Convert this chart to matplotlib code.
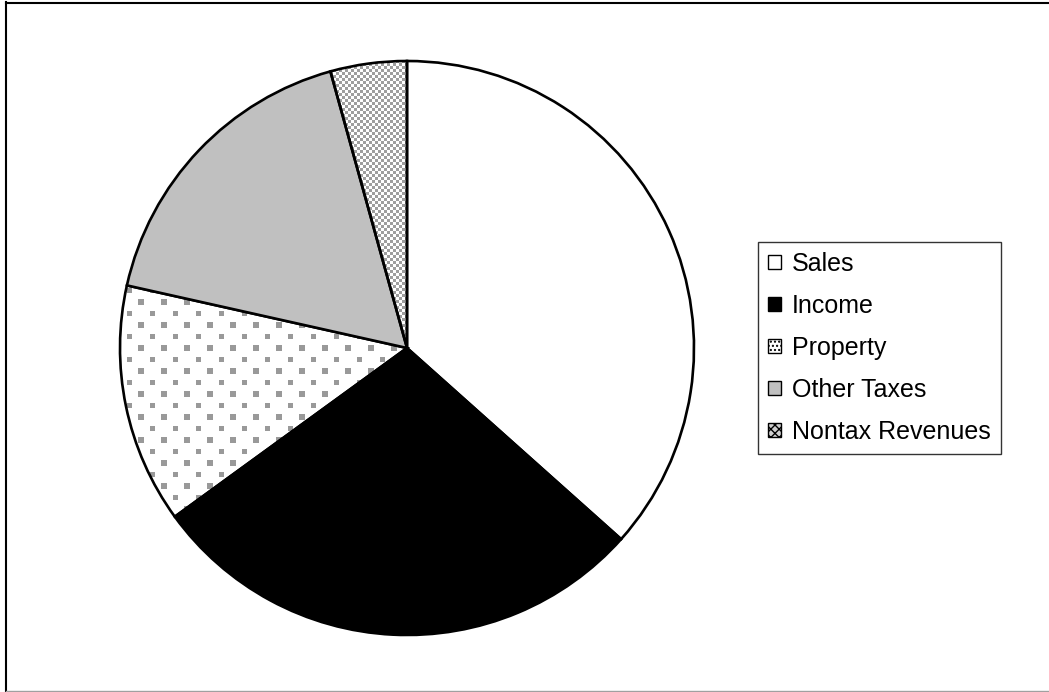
import numpy as np
import matplotlib
matplotlib.use("Agg")
import matplotlib.pyplot as plt
from matplotlib.patches import Patch
from matplotlib.lines import Line2D

plt.rcParams['font.family'] = ['Liberation Sans', 'DejaVu Sans']

# revenue shares (percent)
labels = ["Sales", "Income", "Property", "Other Taxes", "Nontax Revenues"]
shares = [36.6, 28.4, 13.5, 17.2, 4.3]
fills = ["white", "black", "none", "#c0c0c0", "none"]

W, H = 1049, 692
fig = plt.figure(figsize=(W / 100, H / 100), dpi=100)
ax = fig.add_axes([0, 0, 1, 1])

wedges, _ = ax.pie(shares, colors=fills, startangle=90, counterclock=False,
                   center=(407, 344), radius=287, frame=True,
                   wedgeprops=dict(edgecolor="black", linewidth=1.9))
ax.set_xlim(0, W)
ax.set_ylim(0, H)
ax.set_aspect("equal")
ax.axis("off")

# pixel textures for the patterned slices
yy, xx = np.mgrid[0:H, 0:W]
dots = np.ones((H, W, 3))
row = yy // 11.5
on = ((yy % 11.5) < 5.5) & (((xx + (row % 2) * 11.5) % 23) < 5.5)
dots[on] = 0.6
checks = np.ones((H, W, 3))
checks[((xx // 3) + (yy // 3)) % 2 == 0] = 0.62

for tex, w in [(dots, wedges[2]), (checks, wedges[4])]:
    im = ax.imshow(tex, extent=(0, W, 0, H), origin="upper",
                   interpolation="nearest", zorder=0.5)
    im.set_clip_path(w)

handles = [
    Patch(facecolor="white", edgecolor="black", linewidth=1),
    Patch(facecolor="black", edgecolor="black", linewidth=1),
    Patch(facecolor="white", edgecolor="black", linewidth=1, hatch="...."),
    Patch(facecolor="#c0c0c0", edgecolor="black", linewidth=1),
    Patch(facecolor="#d0d0d0", edgecolor="black", linewidth=1, hatch="xxxx"),
]
leg = ax.legend(handles, labels, loc="upper left",
                bbox_to_anchor=(758 / W, 1 - 242 / H),
                bbox_transform=fig.transFigure, fontsize=18,
                frameon=True, fancybox=False, borderpad=0.4,
                handlelength=0.5, handleheight=0.5, handletextpad=0.45,
                labelspacing=0.72, borderaxespad=0)
leg.get_frame().set_edgecolor("black")
leg.get_frame().set_linewidth(1)

# outer chart border
fig.add_artist(Line2D([6 / W, 6 / W], [0, 1 - 2 / H], color="black", lw=1.5,
                      transform=fig.transFigure))
fig.add_artist(Line2D([6 / W, 1], [1 - 2.5 / H, 1 - 2.5 / H], color="black",
                      lw=1.5, transform=fig.transFigure))
fig.add_artist(Line2D([6 / W, 1], [1.5 / H, 1.5 / H], color="#a0a0a0", lw=1,
                      transform=fig.transFigure))

fig.savefig("out.png", dpi=100)
